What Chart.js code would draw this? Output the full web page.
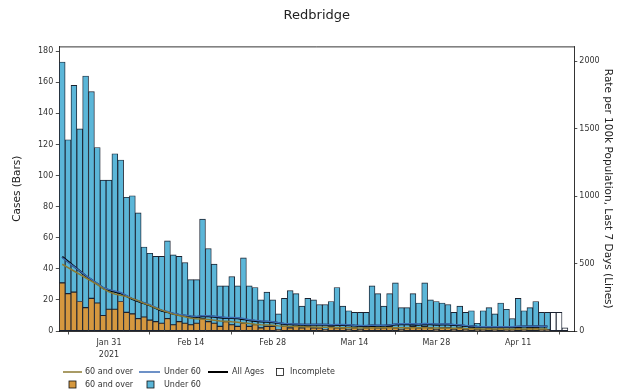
<!DOCTYPE html>
<html><head><meta charset="utf-8">
<script src="https://cdn.jsdelivr.net/npm/chart.js@4.4.0/dist/chart.umd.min.js"></script>
<style>html,body{margin:0;padding:0;background:#fff;}#wrap{width:620px;height:391px;}</style>
</head><body><div id="wrap"><canvas id="c" width="620" height="391"></canvas></div>
<script>
const categories = [
 'Jan 23','Jan 24','Jan 25','Jan 26','Jan 27','Jan 28','Jan 29','Jan 30','Jan 31',
 'Feb 1','Feb 2','Feb 3','Feb 4','Feb 5','Feb 6','Feb 7','Feb 8','Feb 9','Feb 10','Feb 11','Feb 12','Feb 13','Feb 14',
 'Feb 15','Feb 16','Feb 17','Feb 18','Feb 19','Feb 20','Feb 21','Feb 22','Feb 23','Feb 24','Feb 25','Feb 26','Feb 27','Feb 28',
 'Mar 1','Mar 2','Mar 3','Mar 4','Mar 5','Mar 6','Mar 7','Mar 8','Mar 9','Mar 10','Mar 11','Mar 12','Mar 13','Mar 14',
 'Mar 15','Mar 16','Mar 17','Mar 18','Mar 19','Mar 20','Mar 21','Mar 22','Mar 23','Mar 24','Mar 25','Mar 26','Mar 27','Mar 28',
 'Mar 29','Mar 30','Mar 31','Apr 1','Apr 2','Apr 3','Apr 4','Apr 5','Apr 6','Apr 7','Apr 8','Apr 9','Apr 10','Apr 11',
 'Apr 12','Apr 13','Apr 14','Apr 15','Apr 16','Apr 17','Apr 18','Apr 19'
];
const over60Cases = [31,24,25,19,15,21,18,10,14,14,19,12,11,8,9,7,6,5,8,4,6,5,4,5,8,6,5,3,6,4,3,5,3,4,2,3,3,1,3,2,3,2,3,2,2,1,3,2,2,1,2,1,2,3,2,2,3,2,1,2,3,2,3,2,1,2,2,1,2,1,2,1,1,2,1,2,1,1,2,1,2,2,1,1,null,null,null];
const under60Cases = [142,99,133,111,149,133,100,87,83,100,91,74,76,68,45,43,42,43,50,45,42,39,29,28,64,47,38,26,23,31,26,42,26,24,18,22,17,10,18,24,21,14,18,18,15,16,16,26,14,12,10,11,10,26,22,14,21,29,14,13,21,16,28,18,18,16,15,11,14,11,11,4,12,13,10,16,13,7,19,12,13,17,11,11,null,null,null];
const incompleteCases = [null,null,null,null,null,null,null,null,null,null,null,null,null,null,null,null,null,null,null,null,null,null,null,null,null,null,null,null,null,null,null,null,null,null,null,null,null,null,null,null,null,null,null,null,null,null,null,null,null,null,null,null,null,null,null,null,null,null,null,null,null,null,null,null,null,null,null,null,null,null,null,null,null,null,null,null,null,null,null,null,null,null,null,null,12,12,2];
const over60Rate = [495,470,445,420,395,370,345,315,290,275,265,255,240,225,205,190,170,155,140,125,115,105,95,90,88,85,80,75,72,68,65,60,55,50,46,44,42,38,36,34,33,32,30,30,28,27,26,26,25,24,22,22,22,23,24,24,25,25,24,24,25,24,24,23,22,22,21,20,20,18,17,16,15,15,14,14,14,13,14,14,15,15,14,14];
const under60Rate = [545,510,478,445,412,383,354,322,307,296,285,262,240,224,210,195,174,154,144,132,122,117,112,108,114,113,110,105,100,100,98,92,84,79,75,72,68,62,55,53,52,50,49,49,50,49,47,48,48,46,43,41,40,43,42,42,45,52,54,54,53,51,55,54,51,52,52,48,47,40,38,34,32,31,31,32,32,31,35,36,36,38,36,36];
const allAgesRate = [550,515,480,445,410,380,350,318,302,290,280,258,236,220,206,190,170,150,140,128,118,113,108,104,110,109,106,101,96,96,94,88,80,75,71,69,65,59,52,50,49,47,46,46,47,46,44,45,45,43,40,38,37,40,39,39,42,48,50,50,49,47,51,50,47,48,48,44,43,37,35,31,29,28,28,29,29,28,32,33,33,35,33,33];
const tickDates = ['Jan 31','Feb 14','Feb 28','Mar 14','Mar 28','Apr 11'];
const tickLabels = [['Jan 31','2021'],'Feb 14','Feb 28','Mar 14','Mar 28','Apr 11'];
const leftTicks = [0,20,40,60,80,100,120,140,160,180];
const rightTicks = [0,500,1000,1500,2000];

const FONT = 'DejaVu Sans';
const C_OR = '#d5983f', C_BL = '#5bb6d8', C_OLV = '#8c7a32', C_BLN = '#3c6db4', C_EDGE = '#1b2230';
const pts = arr => arr.map((v, i) => ({x: i, y: v}));

const legendPlugin = {
  id: 'customLegend',
  afterDraw(chart) {
    const ctx = chart.ctx;
    ctx.save();
    const a = chart.chartArea;
    ctx.strokeStyle = '#000'; ctx.lineWidth = 0.8;
    ctx.beginPath(); ctx.moveTo(a.left, a.top + 0.4); ctx.lineTo(a.right, a.top + 0.4); ctx.stroke();
    ctx.font = '8px "' + FONT + '"';
    ctx.fillStyle = '#333'; ctx.textBaseline = 'middle'; ctx.textAlign = 'left';
    const y1 = 372, y2 = 384.5;
    const line = (x0, x1, y, col, w) => { ctx.strokeStyle = col; ctx.lineWidth = w; ctx.beginPath(); ctx.moveTo(x0, y); ctx.lineTo(x1, y); ctx.stroke(); };
    const box = (cx, y, col) => { ctx.fillStyle = col; ctx.fillRect(cx - 3.5, y - 3.5, 7, 7); ctx.strokeStyle = '#111'; ctx.lineWidth = 0.8; ctx.strokeRect(cx - 3.5, y - 3.5, 7, 7); };
    line(63, 82, y1, C_OLV, 1.5); ctx.fillStyle = '#333'; ctx.fillText('60 and over', 85, y1);
    line(139, 160, y1, C_BLN, 1.5); ctx.fillStyle = '#333'; ctx.fillText('Under 60', 164, y1);
    line(208, 228, y1, '#000', 2); ctx.fillStyle = '#333'; ctx.fillText('All Ages', 232, y1);
    box(280, y1, '#fff'); ctx.fillStyle = '#333'; ctx.fillText('Incomplete', 290, y1);
    box(72.5, y2, C_OR); ctx.fillStyle = '#333'; ctx.fillText('60 and over', 85, y2);
    box(150.5, y2, C_BL); ctx.fillStyle = '#333'; ctx.fillText('Under 60', 164, y2);
    ctx.restore();
  }
};

new Chart(document.getElementById('c'), {
  data: {
    datasets: [
      {type: 'line', label: '60 and over rate', data: pts(over60Rate), yAxisID: 'y2', borderColor: C_OLV, borderWidth: 1.5, pointRadius: 0, order: 0, tension: 0},
      {type: 'line', label: 'Under 60 rate', data: pts(under60Rate), yAxisID: 'y2', borderColor: C_BLN, borderWidth: 1.5, pointRadius: 0, order: 0, tension: 0},
      {type: 'line', label: 'All Ages', data: pts(allAgesRate), yAxisID: 'y2', borderColor: '#000', borderWidth: 2, pointRadius: 0, order: 0, tension: 0},
      {type: 'bar', label: '60 and over', data: pts(over60Cases), yAxisID: 'y', backgroundColor: C_OR, borderColor: C_EDGE, borderWidth: 0.9, borderSkipped: false, order: 1, barPercentage: 1, categoryPercentage: 1},
      {type: 'bar', label: 'Under 60', data: pts(under60Cases), yAxisID: 'y', backgroundColor: C_BL, borderColor: C_EDGE, borderWidth: 0.9, borderSkipped: false, order: 1, barPercentage: 1, categoryPercentage: 1},
      {type: 'bar', label: 'Incomplete', data: pts(incompleteCases), yAxisID: 'y', backgroundColor: '#ffffff', borderColor: C_EDGE, borderWidth: 0.9, borderSkipped: false, order: 1, barPercentage: 1, categoryPercentage: 1}
    ]
  },
  options: {
    responsive: false, animation: false, devicePixelRatio: 1,
    layout: {padding: 0},
    plugins: {
      legend: {display: false},
      tooltip: {enabled: false},
      title: {display: true, text: 'Redbridge', fullSize: false, color: '#222', font: {family: FONT, size: 13, weight: 'normal'}, padding: {top: 8, bottom: 22.9}}
    },
    scales: {
      x: {
        type: 'linear', min: -0.5, max: 87.6, stacked: true, offset: false,
        afterBuildTicks: s => { s.ticks = tickDates.map(d => ({value: categories.indexOf(d)})); },
        afterFit: s => { s.height = 60; },
        ticks: {autoSkip: false, maxRotation: 0, padding: 2, color: '#333', font: {family: FONT, size: 8, lineHeight: 1.55}, callback: (v, i) => tickLabels[i]},
        grid: {drawOnChartArea: false, tickLength: 3.5, color: '#222', lineWidth: 0.8},
        border: {display: true, color: '#000', width: 0.8}
      },
      y: {
        position: 'left', min: 0, max: 183, stacked: true,
        afterBuildTicks: s => { s.ticks = leftTicks.map(v => ({value: v})); },
        afterFit: s => { s.width = 59.3; },
        ticks: {padding: 2.5, color: '#333', font: {family: FONT, size: 8}, callback: v => String(v)},
        grid: {drawOnChartArea: false, tickLength: 3.5, color: '#222', lineWidth: 0.8},
        border: {display: true, color: '#000', width: 0.8},
        title: {display: true, text: 'Cases (Bars)', color: '#222', font: {family: FONT, size: 10.5}, padding: {top: 10.7, bottom: 0}}
      },
      y2: {
        position: 'right', min: 0, max: 2110,
        afterBuildTicks: s => { s.ticks = rightTicks.map(v => ({value: v})); },
        afterFit: s => { s.width = 45.7; },
        ticks: {padding: 2, color: '#333', font: {family: FONT, size: 8}, callback: v => String(v)},
        grid: {drawOnChartArea: false, tickLength: 3, color: '#222', lineWidth: 0.8},
        border: {display: true, color: '#000', width: 0.8},
        title: {display: true, text: 'Rate per 100k Population, Last 7 Days (Lines)', color: '#222', font: {family: FONT, size: 10.5}, padding: {top: 5.7, bottom: 0}}
      }
    }
  },
  plugins: [legendPlugin]
});
</script>
</body></html>
